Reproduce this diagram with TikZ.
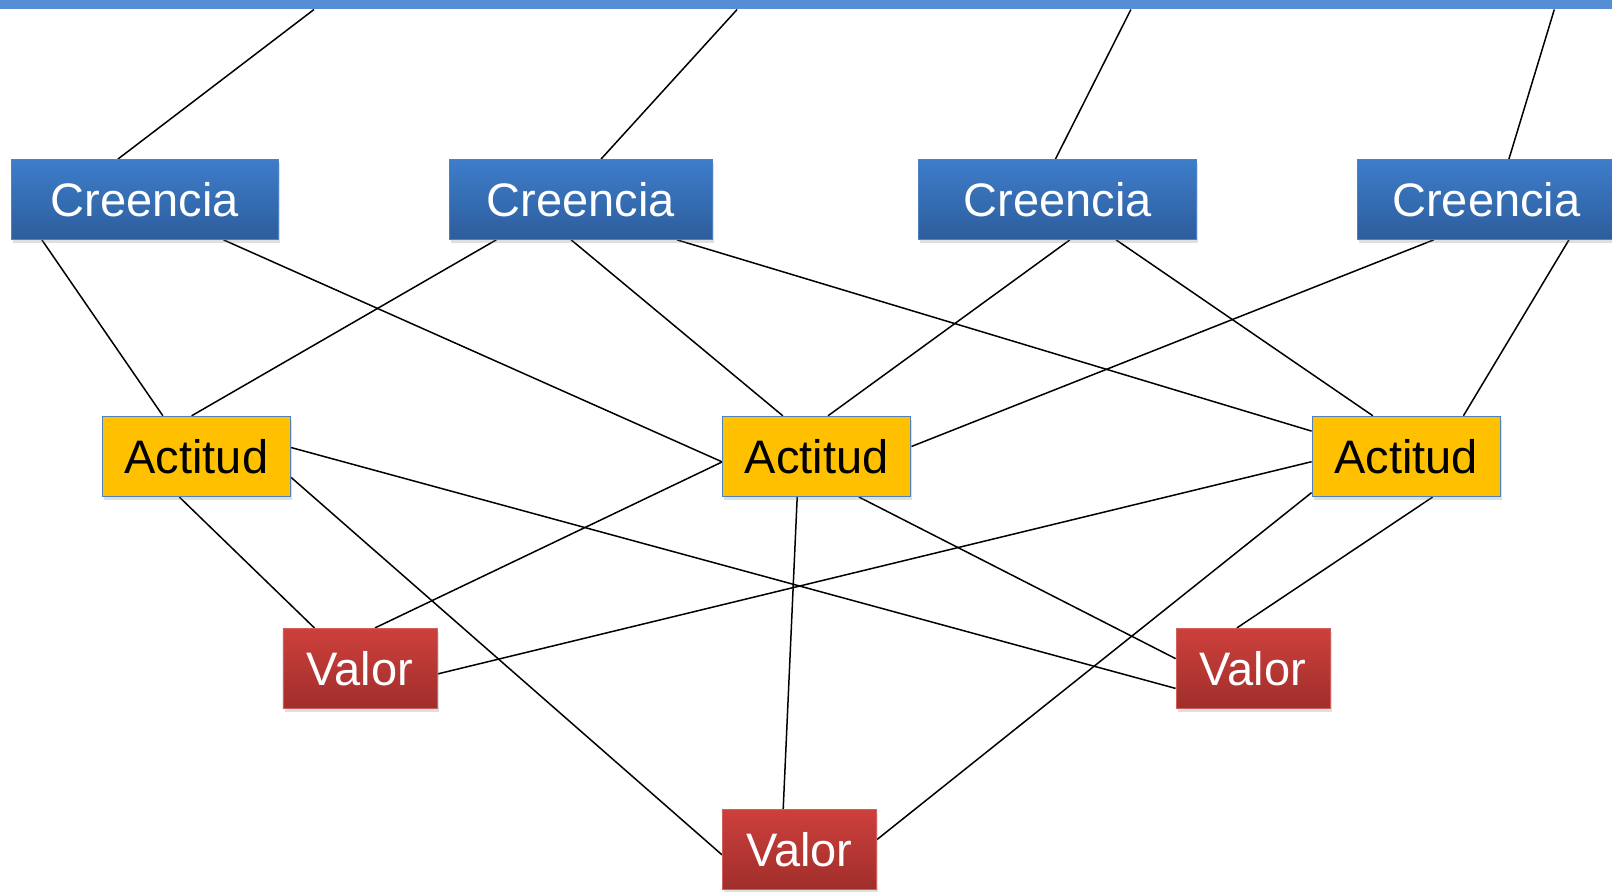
\documentclass[tikz,border=0pt]{standalone}
\usepackage{fontspec}
\setmainfont{Liberation Sans}
\usetikzlibrary{calc,shadows}
\definecolor{barblue}{HTML}{558ED5}
\definecolor{creTop}{HTML}{3E7DCA}
\definecolor{creBot}{HTML}{2D5D9C}
\definecolor{creEdge}{HTML}{4A82C4}
\definecolor{actFill}{HTML}{FFC000}
\definecolor{actEdge}{HTML}{4F81BD}
\definecolor{valTop}{HTML}{CD403C}
\definecolor{valBot}{HTML}{A02E2B}
\definecolor{valEdge}{HTML}{D0605C}
\pgfdeclarelayer{bg}
\pgfsetlayers{bg,main}
\begin{document}
\begin{tikzpicture}[x=0.5pt,y=-0.5pt,
  box/.style={inner sep=0pt, font=\fontsize{23.5}{28}\selectfont, minimum height=40pt,
    drop shadow={shadow xshift=0.8pt, shadow yshift=-1.6pt, opacity=0.25}},
  cre/.style={box, top color=creTop, bottom color=creBot, draw=creEdge, line width=0.4pt, text=white},
  act/.style={box, fill=actFill, draw=actEdge, line width=0.6pt, text=black, minimum width=94pt},
  val/.style={box, top color=valTop, bottom color=valBot, draw=valEdge, line width=0.4pt, text=white, minimum width=77pt},
  conn/.style={line width=0.75pt, black}]
\useasboundingbox (0,0) rectangle (1612,891);
\clip (0,0) rectangle (1612,891);

\node[fill=barblue, inner sep=0pt, minimum width=806pt, minimum height=4.35pt, anchor=north west] (bar) at (0,0) {};

\node[cre, minimum width=133.5pt] (C1) at (145,199.5) {Creencia};
\node[cre, minimum width=131.3pt] (C2) at (580.7,199.5) {Creencia};
\node[cre, minimum width=138.8pt] (C3) at (1057.6,199.5) {Creencia};
\node[cre, minimum width=129.1pt] (C4) at (1486.4,199.5) {Creencia};

\node[act] (A1) at (196.4,456.4) {Actitud};
\node[act] (A2) at (816.8,456.4) {Actitud};
\node[act] (A3) at (1406.2,456.4) {Actitud};

\node[val] (V1) at (359.9,668.3) {Valor};
\node[val] (V2) at (799.5,849.3) {Valor};
\node[val] (V3) at (1253,668.3) {Valor};

\begin{pgfonlayer}{bg}
\fill[white] (0,0) rectangle (1612,891);
% top bar to Creencia
\draw[conn] ($(bar.south west)+(314,0)$) -- ($(C1.north west)+(106.8,0)$);
\draw[conn] ($(bar.south west)+(737.1,0)$) -- ($(C2.north west)+(152,0)$);
\draw[conn] ($(bar.south west)+(1130.9,0)$) -- ($(C3.north west)+(137,0)$);
\draw[conn] ($(bar.south west)+(1554.3,0)$) -- ($(C4.north west)+(152,0)$);
% Creencia to Actitud
\draw[conn] ($(C1.south west)+(30.8,0)$) -- ($(A1.north west)+(61.1,0)$);
\draw[conn] ($(C1.south west)+(212.5,0)$) -- ($(A2.north west)+(0,46.1)$);
\draw[conn] ($(C2.south west)+(47.2,0)$) -- ($(A1.north west)+(89.8,0)$);
\draw[conn] ($(C2.south west)+(122.2,0)$) -- ($(A2.north west)+(60.6,0)$);
\draw[conn] ($(C2.south west)+(228.1,0)$) -- ($(A3.north west)+(0,15.3)$);
\draw[conn] ($(C3.south west)+(151.4,0)$) -- ($(A2.north west)+(105.8,0)$);
\draw[conn] ($(C3.south west)+(197.7,0)$) -- ($(A3.north west)+(61.3,0)$);
\draw[conn] ($(C4.south west)+(76.7,0)$) -- ($(A2.north east)+(0,30.7)$);
\draw[conn] ($(C4.south west)+(212,0)$) -- ($(A3.north west)+(151.8,0)$);
% Actitud to Valor
\draw[conn] ($(A1.south west)+(77.5,0)$) -- ($(V1.north west)+(31.9,0)$);
\draw[conn] ($(A1.north east)+(0,31.7)$) -- ($(V3.north west)+(0,60.5)$);
\draw[conn] ($(A1.north east)+(0,61.5)$) -- ($(V2.north west)+(0,46)$);
\draw[conn] ($(A2.north west)+(0,46.1)$) -- ($(V1.north west)+(92.5,0)$);
\draw[conn] ($(A2.south west)+(75,0)$) -- ($(V2.north west)+(61.1,0)$);
\draw[conn] ($(A2.south west)+(136.7,0)$) -- ($(V3.north west)+(0,30.7)$);
\draw[conn] ($(A3.north west)+(0,45.9)$) -- ($(V1.north east)+(0,46.1)$);
\draw[conn] ($(A3.north west)+(0,76.8)$) -- ($(V2.north east)+(0,30.7)$);
\draw[conn] ($(A3.south west)+(121.1,0)$) -- ($(V3.north west)+(61.3,0)$);
\end{pgfonlayer}
\end{tikzpicture}
\end{document}
